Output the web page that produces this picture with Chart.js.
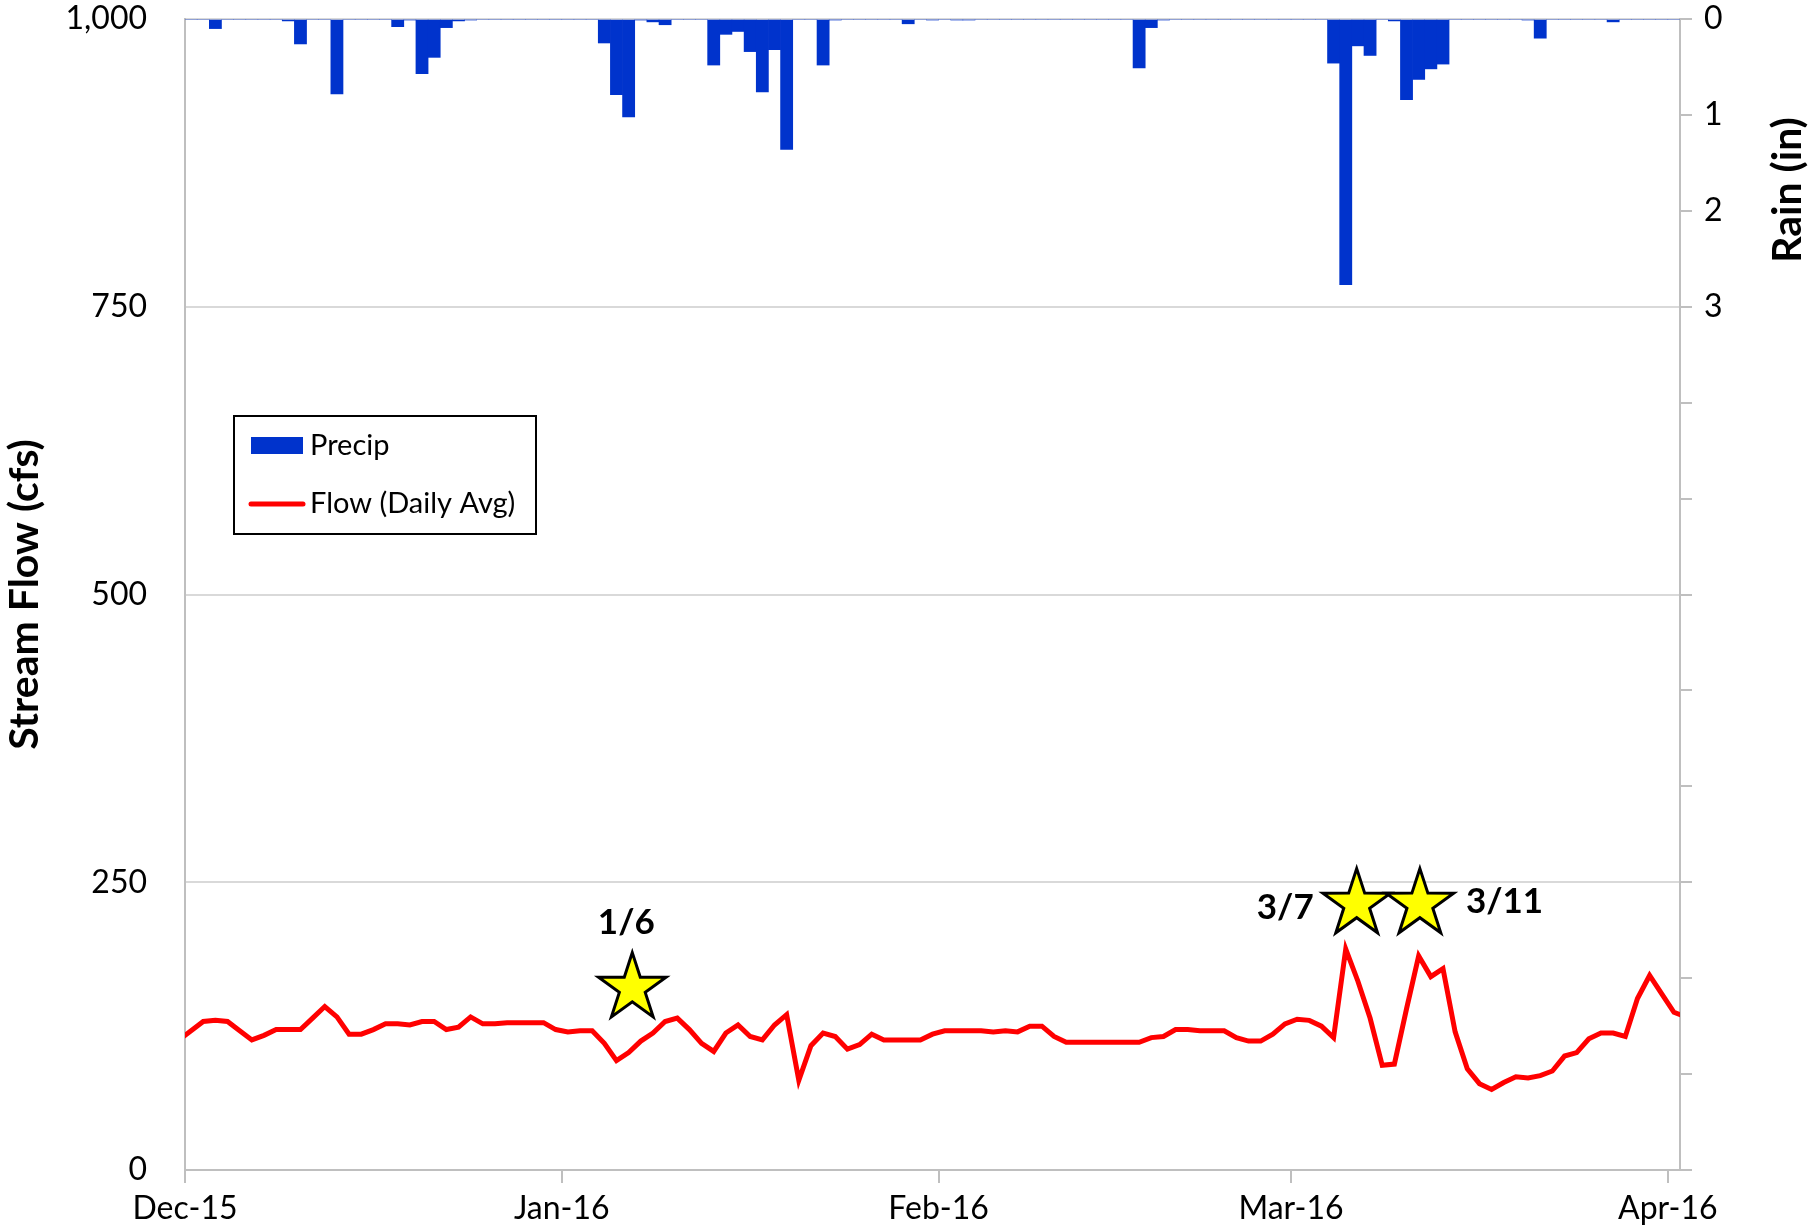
<!DOCTYPE html>
<html><head><meta charset="utf-8">
<script src="https://cdn.jsdelivr.net/npm/chart.js@4.4.1/dist/chart.umd.min.js"></script>
<style>html,body{margin:0;padding:0;background:#fff;}canvas{display:block;}</style>
</head><body>
<canvas id="c" width="1811" height="1225"></canvas>
<script>
// ---------------- data ----------------
const axisStartDate = '2015-12-01';
const axisEndDate = '2016-04-02';
const monthTickDates = ['2015-12-01', '2016-01-01', '2016-02-01', '2016-03-01', '2016-04-01'];
const monthLabels = ['Dec-15', 'Jan-16', 'Feb-16', 'Mar-16', 'Apr-16'];
const flowTicks = [0, 250, 500, 750, 1000];
const rainTickLabels = ['0', '1', '2', '3'];

// daily average flow (cfs), one value per day starting at flowFirstDate
const flowFirstDate = '2015-11-30';
const flowCfs = [
  113, 121, 129, 130, 129, 121, 113, 117, 122, 122,
  122, 132, 142, 133, 118, 118, 122, 127, 127, 126,
  129, 129, 122, 124, 133, 127, 127, 128, 128, 128,
  128, 122, 120, 121, 121, 110, 95, 102, 112, 119,
  129, 132, 122, 110, 103, 119, 126, 116, 113, 126,
  135, 78, 108, 119, 116, 105, 109, 118, 113, 113,
  113, 113, 118, 121, 121, 121, 121, 120, 121, 120,
  125, 125, 116, 111, 111, 111, 111, 111, 111, 111,
  115, 116, 122, 122, 121, 121, 121, 115, 112, 112,
  118, 127, 131, 130, 125, 115, 192, 164, 132, 91,
  92, 140, 186, 168, 175, 120, 88, 75, 70, 76,
  81, 80, 82, 86, 99, 102, 114, 119, 119, 116,
  149, 169, 153, 137, 133
];

// daily precipitation (in), one value per day starting at precipFirstDate
const precipFirstDate = '2015-12-01';
const precipIn = [
  0, 0, 0.10, 0, 0, 0, 0, 0, 0.02, 0.26,
  0, 0, 0.78, 0, 0, 0, 0, 0.08, 0.01, 0.57,
  0.40, 0.09, 0.02, 0.01, 0, 0, 0, 0, 0, 0,
  0, 0, 0, 0, 0.25, 0.79, 1.02, 0.01, 0.03, 0.06,
  0, 0, 0, 0.48, 0.16, 0.13, 0.34, 0.76, 0.32, 1.36,
  0, 0, 0.48, 0.01, 0, 0, 0, 0, 0, 0.05,
  0, 0.01, 0, 0.01, 0.01, 0, 0, 0, 0, 0,
  0, 0, 0, 0, 0, 0, 0, 0, 0.51, 0.09,
  0.01, 0, 0, 0, 0, 0, 0, 0, 0, 0,
  0, 0, 0, 0, 0.46, 2.77, 0.28, 0.38, 0, 0.02,
  0.84, 0.63, 0.52, 0.47, 0, 0, 0, 0, 0, 0,
  0.01, 0.20, 0, 0, 0, 0, 0, 0.03, 0, 0,
  0, 0, 0
];

// sampling-event stars: label, position in days since axis start, flow level (cfs)
const starLabels = ['1/6', '3/7', '3/11'];
const starDays = [36.8, 96.4, 101.6];
const starCfs = [158, 231, 231];

// ---------------- helpers ----------------
const FONT = 'Lato, "Open Sans", sans-serif';
function dayOf(s) {
  const [y, m, d] = s.split('-').map(Number);
  const [y0, m0, d0] = axisStartDate.split('-').map(Number);
  return (Date.UTC(y, m - 1, d) - Date.UTC(y0, m0 - 1, d0)) / 864e5;
}
const flowStart = dayOf(flowFirstDate);
const precipStart = dayOf(precipFirstDate);
// each day occupies the bin [day, day+1]; the value sits at the bin centre
const flowPoints = flowCfs.map((v, i) => ({ x: flowStart + i + 0.5, y: v }));
const precipPoints = precipIn.map((v, i) => ({ x: precipStart + i + 0.5, y: v }));

function starPath(ctx, cx, cy, R, r) {
  ctx.beginPath();
  for (let k = 0; k < 10; k++) {
    const a = -Math.PI / 2 + k * Math.PI / 5;
    const rad = (k % 2) ? r : R;
    const px = cx + rad * Math.cos(a), py = cy + rad * Math.sin(a);
    if (k === 0) ctx.moveTo(px, py); else ctx.lineTo(px, py);
  }
  ctx.closePath();
}

const overlayPlugin = {
  id: 'overlay',
  afterDraw(chart) {
    const ctx = chart.ctx;
    const ca = chart.chartArea;
    const xs = chart.scales.x, ys = chart.scales.y;
    ctx.save();

    // stars + labels
    const labelOffsets = [[-6, -65, 'center'], [-43, 4, 'right'], [46, -2, 'left']];
    starLabels.forEach((lab, i) => {
      const cx = xs.getPixelForValue(starDays[i]);
      const cy = ys.getPixelForValue(starCfs[i]);
      starPath(ctx, cx, cy, 35.5, 13.6);
      ctx.fillStyle = '#FFFF00';
      ctx.fill();
      ctx.lineWidth = 3;
      ctx.lineJoin = 'miter';
      ctx.strokeStyle = '#000';
      ctx.stroke();
      const off = labelOffsets[i];
      ctx.font = 'bold 35px ' + FONT;
      ctx.fillStyle = '#000';
      ctx.textAlign = off[2];
      ctx.textBaseline = 'middle';
      ctx.fillText(lab, cx + off[0], cy + off[1]);
    });

    // legend box
    const lx = ca.left + 49, ly = ca.top + 397, lw = 302, lh = 118;
    ctx.fillStyle = '#fff';
    ctx.fillRect(lx, ly, lw, lh);
    ctx.lineWidth = 2;
    ctx.strokeStyle = '#000';
    ctx.strokeRect(lx, ly, lw, lh);
    const dsBar = chart.data.datasets[1], dsLine = chart.data.datasets[0];
    ctx.fillStyle = dsBar.backgroundColor;
    ctx.fillRect(lx + 17, ly + 21, 52, 17);
    ctx.beginPath();
    ctx.moveTo(lx + 17, ly + 88);
    ctx.lineTo(lx + 69, ly + 88);
    ctx.lineWidth = 5;
    ctx.lineCap = 'round';
    ctx.strokeStyle = dsLine.borderColor;
    ctx.stroke();
    ctx.font = '29px ' + FONT;
    ctx.fillStyle = '#000';
    ctx.textAlign = 'left';
    ctx.textBaseline = 'middle';
    ctx.fillText(dsBar.label, lx + 76, ly + 30);
    ctx.fillText(dsLine.label, lx + 76, ly + 88);

    // right axis title
    ctx.translate(ca.right + 108, ca.top + 171);
    ctx.rotate(-Math.PI / 2);
    ctx.font = 'bold 41px ' + FONT;
    ctx.textAlign = 'center';
    ctx.textBaseline = 'middle';
    ctx.fillText('Rain (in)', 0, 0);
    ctx.restore();
  }
};

new Chart(document.getElementById('c'), {
  data: {
    datasets: [
      {
        type: 'line', label: 'Flow (Daily Avg)', data: flowPoints,
        xAxisID: 'x', yAxisID: 'y',
        borderColor: '#FF0000', backgroundColor: '#FF0000', borderWidth: 5,
        pointRadius: 0, tension: 0, clip: 0, order: 1
      },
      {
        type: 'bar', label: 'Precip', data: precipPoints,
        xAxisID: 'x', yAxisID: 'y2',
        backgroundColor: '#0033CC', borderWidth: 0,
        barPercentage: 1, categoryPercentage: 1, order: 2
      }
    ]
  },
  options: {
    responsive: false,
    animation: false,
    layout: { padding: { top: 19, left: 0, right: 0, bottom: 0 } },
    plugins: { legend: { display: false }, tooltip: { enabled: false } },
    scales: {
      x: {
        type: 'linear', position: 'bottom', offset: false,
        min: 0, max: dayOf(axisEndDate),
        afterBuildTicks: s => { s.ticks = monthTickDates.map(d => ({ value: dayOf(d) })); },
        ticks: {
          callback: (v, i) => monthLabels[i],
          font: { family: FONT, size: 32, lineHeight: 1 }, color: '#000',
          maxRotation: 0, minRotation: 0, autoSkip: false, padding: 10
        },
        grid: { offset: false, drawOnChartArea: false, color: '#BFBFBF', lineWidth: 2, tickLength: 13 },
        border: { color: '#BFBFBF', width: 2 },
        afterFit: s => { s.height = 55; s.paddingLeft = 0; s.paddingRight = 0; }
      },
      y: {
        position: 'left', min: 0, max: 1000,
        afterBuildTicks: s => { s.ticks = flowTicks.map(v => ({ value: v })); },
        ticks: { font: { family: FONT, size: 32, lineHeight: 1 }, color: '#000', padding: 38 },
        grid: { offset: false, color: '#D9D9D9', lineWidth: 2, drawTicks: false },
        border: { color: '#BFBFBF', width: 2 },
        title: {
          display: true, text: 'Stream Flow (cfs)', color: '#000', padding: 0,
          font: { family: FONT, size: 41, weight: 'bold', lineHeight: 1.2 }
        },
        afterFit: s => { s.width = 185; s.paddingTop = 0; s.paddingBottom = 0; }
      },
      y2: {
        position: 'right', min: 0, max: 12, reverse: true,
        ticks: {
          stepSize: 1, autoSkip: false,
          callback: v => (rainTickLabels[v] !== undefined ? rainTickLabels[v] : ''),
          font: { family: FONT, size: 32, lineHeight: 1 }, color: '#000', padding: 12
        },
        grid: { offset: false, drawOnChartArea: false, color: '#BFBFBF', lineWidth: 2, tickLength: 12 },
        border: { color: '#BFBFBF', width: 2 },
        afterFit: s => { s.width = 131; s.paddingTop = 0; s.paddingBottom = 0; }
      }
    }
  },
  plugins: [overlayPlugin]
});
</script>
</body></html>
